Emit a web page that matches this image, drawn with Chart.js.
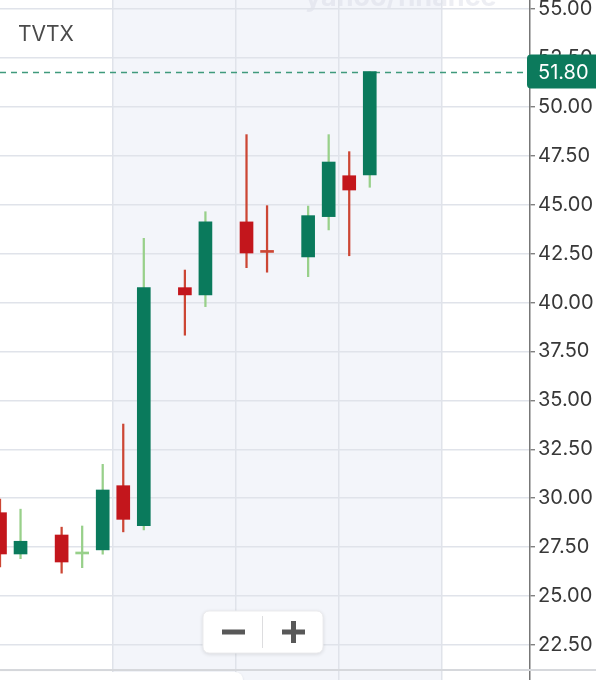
<!DOCTYPE html>
<html>
<head>
<meta charset="utf-8">
<title>TVTX</title>
<script src="https://cdn.jsdelivr.net/npm/chart.js@4.4.1/dist/chart.umd.min.js"></script>
<style>
  html, body { margin: 0; padding: 0; background: #ffffff; }
  #wrap { width: 596px; height: 680px; position: relative; overflow: hidden; }
  canvas { display: block; }
</style>
</head>
<body>
<div id="wrap"><canvas id="chart" width="596" height="680"></canvas></div>
<script>
// Daily candles; slot = trading-day position on the time axis (missing days leave gaps)
const symbol = 'TVTX';
const slots  = [0, 1, 3, 4, 5, 6, 7, 9, 10, 12, 13, 15, 16, 17, 18];
const opens  = [29.26, 27.15, 28.12, 27.15, 27.36, 30.64, 28.60, 40.76, 40.39, 44.12, 42.58, 42.33, 44.39, 46.48, 46.52];
const highs  = [29.96, 29.44, 28.52, 28.58, 31.73, 33.79, 43.28, 41.66, 44.64, 48.58, 44.95, 44.93, 48.58, 47.71, 51.80];
const lows   = [26.49, 26.91, 26.17, 26.45, 27.14, 28.28, 28.38, 38.33, 39.79, 41.78, 41.55, 41.32, 43.71, 42.39, 45.89];
const closes = [27.15, 27.80, 26.74, 27.18, 30.42, 28.92, 40.76, 40.39, 44.13, 42.53, 42.56, 44.44, 47.18, 45.75, 51.80];
const lastPrice = 51.80;
const priceTicks = [22.5, 25, 27.5, 30, 32.5, 35, 37.5, 40, 42.5, 45, 47.5, 50, 52.5, 55];
// week boundaries on the slot axis; the shaded band spans the first to the last
const weekBreaks = [5.5, 11.5, 16.5, 21.5];
// visible window
const slotRange  = [0, 25.8];
const priceRange = [20.71, 55.46];

const UP_BODY = '#0a7a5c', DOWN_BODY = '#c3161c';
const UP_WICK = '#98d08a', DOWN_WICK = '#cc4634';
const FONT = 'Inter, "Noto Sans", sans-serif';

const isUp = i => closes[i] >= opens[i];
const isDoji = i => Math.abs(closes[i] - opens[i]) < 0.05;

const bodyColor = ctx => {
  const i = ctx.dataIndex;
  if (isDoji(i)) return isUp(i) ? UP_WICK : DOWN_WICK;
  return isUp(i) ? UP_BODY : DOWN_BODY;
};
const wickColor = ctx => isUp(ctx.dataIndex) ? UP_WICK : DOWN_WICK;

// shaded week band behind the grid
const bandPlugin = {
  id: 'band',
  beforeDraw(chart) {
    const { ctx, chartArea: a, scales: { x } } = chart;
    const x0 = x.getPixelForValue(weekBreaks[0]);
    const x1 = x.getPixelForValue(weekBreaks[weekBreaks.length - 1]);
    ctx.save();
    ctx.fillStyle = '#ffffff';
    ctx.fillRect(0, 0, chart.width, chart.height);
    ctx.fillStyle = '#f3f5fa';
    ctx.fillRect(x0, a.top, x1 - x0, a.bottom - a.top);
    // faint watermark
    ctx.fillStyle = 'rgba(214,218,228,0.45)';
    ctx.font = 'bold 27px ' + FONT;
    ctx.textBaseline = 'alphabetic';
    ctx.fillText('yahoo/finance', 305, 6);
    ctx.restore();
  }
};

// dashed last-price line
const priceLinePlugin = {
  id: 'priceLine',
  beforeDatasetsDraw(chart) {
    const { ctx, chartArea: a, scales: { y } } = chart;
    const py = Math.round(y.getPixelForValue(lastPrice)) + 0.5;
    ctx.save();
    ctx.strokeStyle = '#3f9a7c';
    ctx.lineWidth = 1.3;
    ctx.setLineDash([6, 5]);
    ctx.beginPath();
    ctx.moveTo(a.left, py);
    ctx.lineTo(a.right, py);
    ctx.stroke();
    ctx.restore();
  },
  afterDraw(chart) {
    const { ctx, chartArea: a, scales: { y } } = chart;
    const py = y.getPixelForValue(lastPrice);
    const h = 34, x0 = a.right - 3;
    ctx.save();
    ctx.fillStyle = '#0c7a5c';
    ctx.beginPath();
    ctx.roundRect(x0, py - h / 2, chart.width - x0 + 6, h, 4);
    ctx.fill();
    ctx.fillStyle = '#ffffff';
    ctx.font = '20px ' + FONT;
    ctx.textBaseline = 'middle';
    ctx.textAlign = 'left';
    ctx.fillText(lastPrice.toFixed(2), 538, py + 1);

    // symbol
    ctx.fillStyle = '#4a4a4a';
    ctx.font = '21px ' + FONT;
    ctx.textBaseline = 'alphabetic';
    ctx.fillText(symbol, 18, 41);

    // zoom controls
    ctx.shadowColor = 'rgba(0,0,0,0.14)';
    ctx.shadowBlur = 4;
    ctx.shadowOffsetY = 1;
    ctx.fillStyle = '#ffffff';
    ctx.beginPath();
    ctx.roundRect(203, 611, 120, 42, 6);
    ctx.fill();
    ctx.shadowColor = 'transparent';
    ctx.strokeStyle = '#ececee';
    ctx.lineWidth = 1;
    ctx.stroke();
    ctx.strokeStyle = '#dddddf';
    ctx.beginPath();
    ctx.moveTo(262.5, 616);
    ctx.lineTo(262.5, 648);
    ctx.stroke();
    ctx.fillStyle = '#585858';
    ctx.fillRect(222, 629.5, 23, 5);
    ctx.fillRect(282, 629.5, 23, 5);
    ctx.fillRect(291, 621, 5, 22);

    // footer strip
    ctx.fillStyle = '#d6d8dc';
    ctx.fillRect(0, 669, chart.width, 2);
    ctx.shadowColor = 'rgba(0,0,0,0.10)';
    ctx.shadowBlur = 3;
    ctx.fillStyle = '#ffffff';
    ctx.beginPath();
    ctx.roundRect(-8, 672, 251, 30, 8);
    ctx.fill();
    ctx.restore();
  }
};

new Chart(document.getElementById('chart'), {
  type: 'bar',
  data: {
    datasets: [
      {
        label: 'body',
        data: slots.map((s, i) => ({ x: s, y: [opens[i], closes[i]] })),
        backgroundColor: bodyColor,
        borderWidth: 0,
        barThickness: 13,
        minBarLength: 2,
        grouped: false
      },
      {
        label: 'wick',
        data: slots.map((s, i) => ({ x: s, y: [lows[i], highs[i]] })),
        backgroundColor: wickColor,
        borderWidth: 0,
        barThickness: 1.6,
        grouped: false
      }
    ]
  },
  options: {
    responsive: false,
    devicePixelRatio: 1,
    animation: false,
    events: [],
    layout: { padding: 0 },
    plugins: { legend: { display: false }, tooltip: { enabled: false } },
    scales: {
      x: {
        type: 'linear',
        min: slotRange[0],
        max: slotRange[1],
        offset: false,
        afterBuildTicks: s => { s.ticks = weekBreaks.map(v => ({ value: v })); },
        afterFit: s => { s.height = 0; s.paddingLeft = 0; s.paddingRight = 0; },
        ticks: { display: false },
        grid: { color: '#e0e3ea', lineWidth: 1.5, drawTicks: false, offset: false },
        border: { display: false }
      },
      y: {
        position: 'right',
        min: priceRange[0],
        max: priceRange[1],
        afterBuildTicks: s => { s.ticks = priceTicks.map(v => ({ value: v })); },
        afterFit: s => { s.width = 66; s.paddingTop = 0; s.paddingBottom = 0; },
        ticks: {
          color: '#383838',
          font: { family: FONT, size: 20 },
          padding: 3,
          callback: v => Number(v).toFixed(2)
        },
        grid: { color: '#e0e3ea', lineWidth: 1.5, tickColor: '#6b6b6b', tickLength: 5, tickWidth: 1.2 },
        border: { color: '#777777', width: 1.5 }
      }
    }
  },
  plugins: [bandPlugin, priceLinePlugin]
});
</script>
</body>
</html>
